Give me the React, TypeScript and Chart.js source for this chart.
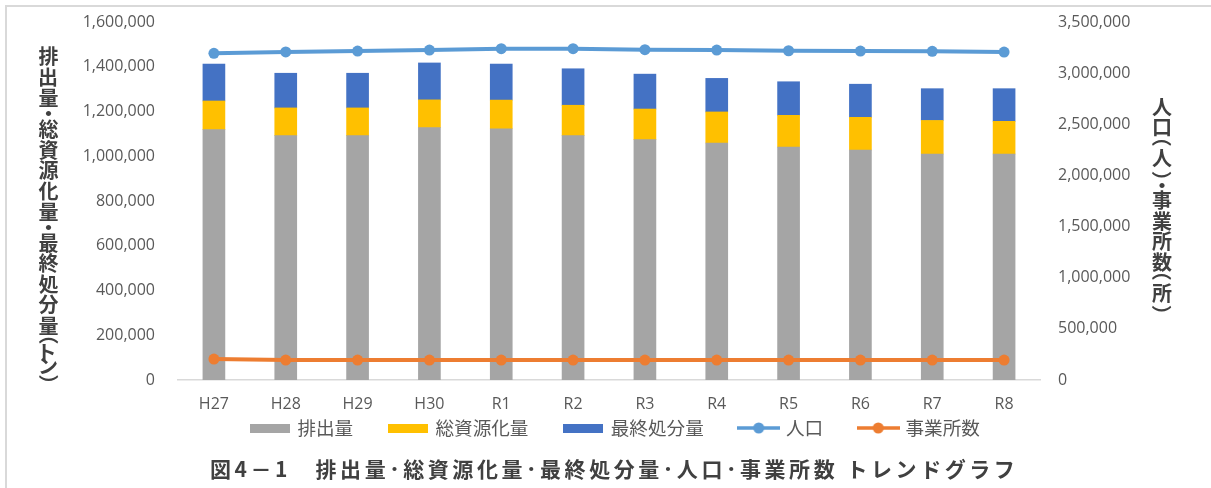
import React, { useEffect, useRef } from 'react';
import { Chart, registerables } from 'chart.js';

Chart.register(...registerables);

// ---- data ----
const categories = ['H27', 'H28', 'H29', 'H30', 'R1', 'R2', 'R3', 'R4', 'R5', 'R6', 'R7', 'R8'];
const emissions = [1119000, 1092000, 1092000, 1128000, 1123000, 1092000, 1074000, 1059000, 1041000, 1028000, 1010000, 1010000];
const recycled = [128000, 124000, 124000, 124000, 128000, 136000, 137000, 139000, 142000, 146000, 150000, 146000];
const disposal = [165000, 155000, 155000, 165000, 161000, 163000, 156000, 150000, 150000, 148000, 142000, 146000];
const population = [3194000, 3207000, 3216000, 3226000, 3239000, 3239000, 3229000, 3226000, 3219000, 3216000, 3213000, 3206000];
const establishments = [205000, 195000, 195000, 195000, 195000, 195000, 195000, 195000, 195000, 195000, 195000, 195000];

const seriesNames = ['排出量', '総資源化量', '最終処分量', '人口', '事業所数'];
const leftAxisMax = 1600000;
const leftAxisStep = 200000;
const rightAxisMax = 3500000;
const rightAxisStep = 500000;
const leftAxisTitle = '排出量・総資源化量・最終処分量（トン）';
const rightAxisTitle = '人口（人）・事業所数（所）';
const caption = '図4－1　排出量･総資源化量･最終処分量･人口･事業所数 トレンドグラフ';

// ---- styles ----
const GRAY = '#A5A5A5';
const YELLOW = '#FFC000';
const BLUE = '#4472C4';
const LIGHTBLUE = '#5B9BD5';
const ORANGE = '#ED7D31';
const TICK_COLOR = '#595959';
const TITLE_COLOR = '#404040';
const LEGEND_DX = 7;
const LEGEND_TEXT_Y = 428;
const LEGEND_PAD = 37;
const LEGEND_FONT = 18.6;

function makeRectIcon(color: string) {
  const c = document.createElement('canvas');
  c.width = 40;
  c.height = 9;
  const g = c.getContext('2d')!;
  g.fillStyle = color;
  g.fillRect(0, 0, 40, 9);
  return c;
}

function makeLineIcon(color: string) {
  const c = document.createElement('canvas');
  c.width = 43;
  c.height = 12;
  const g = c.getContext('2d')!;
  g.strokeStyle = color;
  g.lineWidth = 3.5;
  g.beginPath();
  g.moveTo(0, 6);
  g.lineTo(43, 6);
  g.stroke();
  g.fillStyle = color;
  g.beginPath();
  g.arc(21.5, 6, 5.5, 0, Math.PI * 2);
  g.fill();
  return c;
}

function drawVertical(ctx: CanvasRenderingContext2D, text: string, cx: number, top: number, step: number) {
  ctx.save();
  ctx.font = 'bold 20px "Noto Sans CJK JP"';
  ctx.fillStyle = TITLE_COLOR;
  ctx.textAlign = 'left';
  ctx.textBaseline = 'alphabetic';
  let y = top;
  for (const ch of Array.from(text)) {
    const isBracket = '（）()'.includes(ch);
    const isDot = '・･'.includes(ch);
    const isKana = 'トン'.includes(ch);
    const h = isBracket || isDot ? step / 2 : isKana ? step * 0.64 : step;
    const cy = y + h / 2;
    const m = ctx.measureText(ch);
    ctx.save();
    ctx.translate(cx, cy);
    if (isBracket) ctx.rotate(Math.PI / 2);
    const ox = (m.actualBoundingBoxLeft - m.actualBoundingBoxRight) / 2;
    const oy = (m.actualBoundingBoxAscent - m.actualBoundingBoxDescent) / 2;
    ctx.fillText(ch, ox, oy);
    ctx.restore();
    y += h;
  }
  ctx.restore();
}

const verticalTitles = {
  id: 'verticalTitles',
  afterDraw(chart: any) {
    drawVertical(chart.ctx, leftAxisTitle, 48.5, 46, 20.7);
    drawVertical(chart.ctx, rightAxisTitle, 1162, 97, 20.6);
  },
};

const legendMover = {
  id: 'legendMover',
  afterLayout(chart: any) {
    const lg = chart.legend;
    if (!lg) return;
    lg.left += LEGEND_DX;
    lg.right += LEGEND_DX;
    lg.top = LEGEND_TEXT_Y - LEGEND_PAD - LEGEND_FONT / 2;
    lg.bottom = 488;
  },
};

const fmt = (v: any) => Number(v).toLocaleString('en-US');

export default function App() {
  const ref = useRef<HTMLCanvasElement | null>(null);

  useEffect(() => {
    document.body.style.margin = '0';
    const icons = [
      makeRectIcon(GRAY),
      makeRectIcon(YELLOW),
      makeRectIcon(BLUE),
      makeLineIcon(LIGHTBLUE),
      makeLineIcon(ORANGE),
    ];
    const tickFont = { family: '"Open Sans", "Noto Sans", sans-serif', size: 16 };
    const chart = new Chart(ref.current!, {
      type: 'bar',
      data: {
        labels: categories,
        datasets: [
          { type: 'bar', label: seriesNames[0], data: emissions, backgroundColor: GRAY, borderWidth: 0, barThickness: 22, yAxisID: 'y', order: 2 },
          { type: 'bar', label: seriesNames[1], data: recycled, backgroundColor: YELLOW, borderWidth: 0, barThickness: 22, yAxisID: 'y', order: 2 },
          { type: 'bar', label: seriesNames[2], data: disposal, backgroundColor: BLUE, borderWidth: 0, barThickness: 22, yAxisID: 'y', order: 2 },
          { type: 'line', label: seriesNames[3], data: population, borderColor: LIGHTBLUE, backgroundColor: LIGHTBLUE, borderWidth: 4, pointRadius: 5.5, pointBorderWidth: 0, pointBackgroundColor: LIGHTBLUE, yAxisID: 'y1', order: 1 },
          { type: 'line', label: seriesNames[4], data: establishments, borderColor: ORANGE, backgroundColor: ORANGE, borderWidth: 4, pointRadius: 5.5, pointBorderWidth: 0, pointBackgroundColor: ORANGE, yAxisID: 'y1', order: 1 },
        ] as any,
      },
      options: {
        animation: false,
        responsive: false,
        devicePixelRatio: 1,
        layout: { padding: { left: 0, right: 0, top: 22, bottom: 0 } },
        plugins: {
          tooltip: { enabled: false },
          title: { display: false },
          legend: {
            display: true,
            position: 'bottom',
            fullSize: false,
            maxHeight: 40,
            labels: {
              usePointStyle: true,
              pointStyleWidth: 36,
              padding: LEGEND_PAD,
              color: TICK_COLOR,
              font: { family: '"Noto Sans CJK JP", sans-serif', size: LEGEND_FONT },
              generateLabels: (c: any) =>
                c.data.datasets.map((ds: any, i: number) => ({
                  text: ds.label,
                  fillStyle: ds.backgroundColor,
                  strokeStyle: ds.backgroundColor,
                  lineWidth: 0,
                  hidden: false,
                  datasetIndex: i,
                  fontColor: TICK_COLOR,
                  pointStyle: icons[i],
                })),
            },
          },
        },
        scales: {
          x: {
            stacked: true,
            grid: { display: false, drawTicks: false },
            border: { display: true, color: '#D9D9D9', width: 1.5 },
            ticks: { color: TICK_COLOR, font: tickFont, padding: 15, maxRotation: 0 },
            afterFit: (s: any) => { s.height = 68; },
          },
          y: {
            stacked: true,
            position: 'left',
            min: 0,
            max: leftAxisMax,
            grid: { display: false, drawTicks: false },
            border: { display: false },
            ticks: { stepSize: leftAxisStep, color: TICK_COLOR, font: tickFont, padding: 23, callback: fmt },
            afterFit: (s: any) => { s.width = 178; s.paddingTop = 0; s.paddingBottom = 0; },
          },
          y1: {
            position: 'right',
            min: 0,
            max: rightAxisMax,
            grid: { display: false, drawTicks: false },
            border: { display: false },
            ticks: { stepSize: rightAxisStep, color: TICK_COLOR, font: tickFont, padding: 18, callback: fmt },
            afterFit: (s: any) => { s.width = 171; s.paddingTop = 0; s.paddingBottom = 0; },
          },
        },
      } as any,
      plugins: [verticalTitles, legendMover],
    });
    return () => chart.destroy();
  }, []);

  return (
    <div style={{ position: 'absolute', left: 0, top: 0, width: 1211, height: 488, overflow: 'hidden', background: '#fff' }}>
      <div style={{ position: 'absolute', left: 5, top: 5, width: 1300, height: 600, borderLeft: '2px solid #D9D9D9', borderTop: '2px solid #D9D9D9', boxSizing: 'border-box' }} />
      <canvas ref={ref} width={1211} height={488} style={{ position: 'absolute', left: 0, top: 0, width: 1211, height: 488 }} />
      <div style={{ position: 'absolute', left: 210, top: 457, font: 'bold 21px "Noto Sans CJK JP", sans-serif', lineHeight: '22px', color: TITLE_COLOR, letterSpacing: '3.55px', whiteSpace: 'nowrap' }}>
        {caption}
      </div>
    </div>
  );
}
